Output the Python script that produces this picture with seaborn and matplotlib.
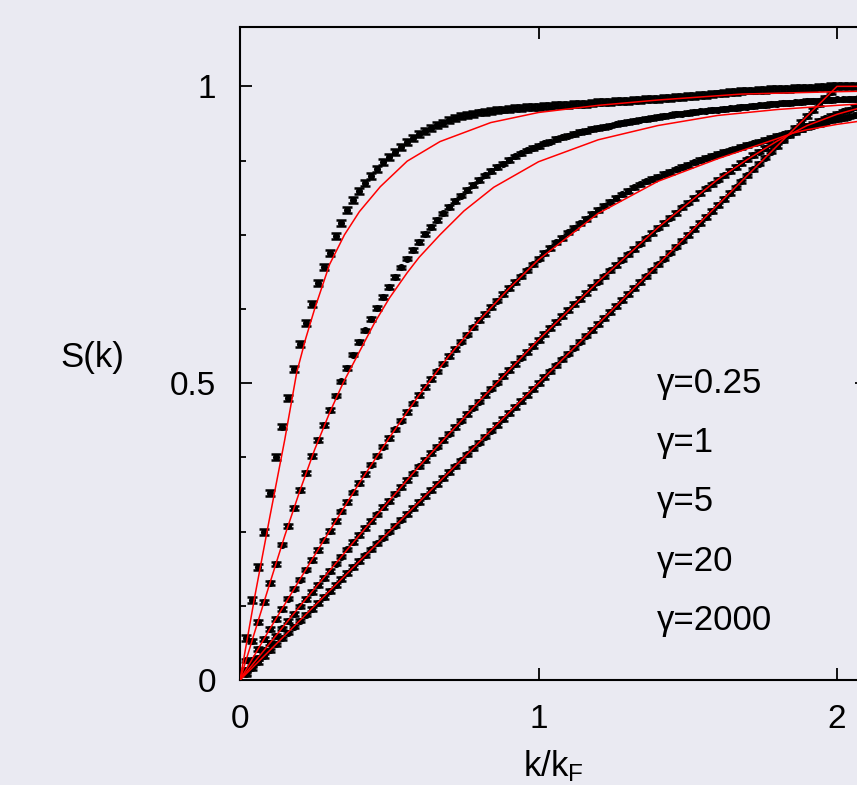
import numpy as np
import pandas as pd
import matplotlib
matplotlib.use("Agg")
import matplotlib.pyplot as plt
import seaborn as sns
from matplotlib.ticker import MultipleLocator

# ---------------- data ----------------
K = [0.02, 0.04, 0.06, 0.08, 0.10, 0.12, 0.14, 0.16, 0.18, 0.20,
     0.22, 0.24, 0.26, 0.28, 0.30, 0.32, 0.34, 0.36, 0.38, 0.40,
     0.42, 0.44, 0.46, 0.48, 0.50, 0.52, 0.54, 0.56, 0.58, 0.60,
     0.62, 0.64, 0.66, 0.68, 0.70, 0.72, 0.74, 0.76, 0.78, 0.80,
     0.82, 0.84, 0.86, 0.88, 0.90, 0.92, 0.94, 0.96, 0.98, 1.00,
     1.02, 1.04, 1.06, 1.08, 1.10, 1.12, 1.14, 1.16, 1.18, 1.20,
     1.22, 1.24, 1.26, 1.28, 1.30, 1.32, 1.34, 1.36, 1.38, 1.40,
     1.42, 1.44, 1.46, 1.48, 1.50, 1.52, 1.54, 1.56, 1.58, 1.60,
     1.62, 1.64, 1.66, 1.68, 1.70, 1.72, 1.74, 1.76, 1.78, 1.80,
     1.82, 1.84, 1.86, 1.88, 1.90, 1.92, 1.94, 1.96, 1.98, 2.00,
     2.02, 2.04, 2.06, 2.08]

S_g025 = [0.070, 0.135, 0.190, 0.250, 0.315, 0.375, 0.427, 0.475, 0.524, 0.566,
          0.602, 0.634, 0.668, 0.695, 0.720, 0.748, 0.770, 0.792, 0.808, 0.824,
          0.837, 0.849, 0.861, 0.872, 0.881, 0.890, 0.898, 0.906, 0.913, 0.919,
          0.925, 0.930, 0.935, 0.939, 0.943, 0.947, 0.950, 0.952, 0.954, 0.956,
          0.957, 0.958, 0.960, 0.961, 0.962, 0.963, 0.964, 0.965, 0.965, 0.966,
          0.967, 0.967, 0.968, 0.969, 0.969, 0.970, 0.971, 0.971, 0.972, 0.973,
          0.973, 0.974, 0.975, 0.975, 0.976, 0.977, 0.977, 0.978, 0.979, 0.979,
          0.980, 0.981, 0.982, 0.982, 0.983, 0.984, 0.985, 0.986, 0.987, 0.988,
          0.989, 0.990, 0.991, 0.992, 0.993, 0.993, 0.994, 0.994, 0.995, 0.995,
          0.996, 0.996, 0.997, 0.997, 0.998, 0.998, 0.999, 0.999, 1.000, 1.000,
          1.000, 1.000, 1.001, 1.001]

S_g1 = [0.033, 0.066, 0.098, 0.131, 0.163, 0.195, 0.228, 0.259, 0.290, 0.320,
        0.349, 0.377, 0.404, 0.430, 0.455, 0.479, 0.503, 0.526, 0.548, 0.569,
        0.589, 0.608, 0.627, 0.645, 0.662, 0.679, 0.695, 0.710, 0.724, 0.738,
        0.751, 0.763, 0.775, 0.786, 0.797, 0.807, 0.816, 0.825, 0.834, 0.842,
        0.850, 0.857, 0.864, 0.870, 0.876, 0.882, 0.887, 0.892, 0.896, 0.900,
        0.904, 0.907, 0.911, 0.914, 0.917, 0.920, 0.923, 0.925, 0.928, 0.930,
        0.932, 0.934, 0.936, 0.938, 0.940, 0.942, 0.944, 0.945, 0.947, 0.948,
        0.950, 0.951, 0.953, 0.954, 0.955, 0.957, 0.958, 0.959, 0.960, 0.961,
        0.962, 0.963, 0.964, 0.965, 0.966, 0.967, 0.968, 0.969, 0.970, 0.971,
        0.972, 0.972, 0.973, 0.974, 0.975, 0.975, 0.976, 0.977, 0.977, 0.978,
        0.978, 0.979, 0.979, 0.980]

S_g5 = [0.017, 0.034, 0.052, 0.069, 0.086, 0.103, 0.120, 0.137, 0.154, 0.169,
        0.186, 0.202, 0.219, 0.235, 0.251, 0.268, 0.284, 0.300, 0.316, 0.332,
        0.347, 0.363, 0.378, 0.393, 0.408, 0.422, 0.437, 0.451, 0.466, 0.480,
        0.494, 0.507, 0.520, 0.533, 0.546, 0.558, 0.570, 0.582, 0.594, 0.606,
        0.617, 0.628, 0.639, 0.650, 0.660, 0.670, 0.680, 0.690, 0.700, 0.710,
        0.719, 0.728, 0.737, 0.745, 0.754, 0.762, 0.769, 0.777, 0.785, 0.792,
        0.799, 0.806, 0.812, 0.818, 0.824, 0.830, 0.835, 0.840, 0.844, 0.848,
        0.852, 0.856, 0.860, 0.864, 0.868, 0.872, 0.876, 0.879, 0.883, 0.886,
        0.889, 0.892, 0.895, 0.898, 0.901, 0.904, 0.907, 0.910, 0.913, 0.916,
        0.919, 0.922, 0.925, 0.928, 0.931, 0.934, 0.937, 0.940, 0.943, 0.945,
        0.947, 0.949, 0.951, 0.953]

S_g20 = [0.012, 0.025, 0.037, 0.050, 0.062, 0.074, 0.087, 0.099, 0.111, 0.124,
         0.136, 0.148, 0.160, 0.172, 0.184, 0.196, 0.208, 0.220, 0.232, 0.244,
         0.256, 0.268, 0.279, 0.291, 0.302, 0.314, 0.325, 0.337, 0.348, 0.360,
         0.371, 0.382, 0.393, 0.404, 0.415, 0.426, 0.437, 0.448, 0.459, 0.469,
         0.480, 0.491, 0.501, 0.512, 0.522, 0.532, 0.543, 0.553, 0.563, 0.573,
         0.583, 0.593, 0.603, 0.613, 0.623, 0.633, 0.642, 0.652, 0.662, 0.671,
         0.680, 0.690, 0.699, 0.708, 0.717, 0.726, 0.735, 0.744, 0.753, 0.762,
         0.770, 0.779, 0.787, 0.796, 0.804, 0.812, 0.820, 0.828, 0.835, 0.843,
         0.850, 0.857, 0.864, 0.871, 0.877, 0.884, 0.890, 0.896, 0.902, 0.908,
         0.913, 0.918, 0.923, 0.928, 0.933, 0.937, 0.942, 0.946, 0.950, 0.954,
         0.958, 0.961, 0.965, 0.968]

S_g2000 = [0.01, 0.02, 0.03, 0.04, 0.05, 0.06, 0.07, 0.08, 0.09, 0.10,
           0.11, 0.12, 0.13, 0.14, 0.15, 0.16, 0.17, 0.18, 0.19, 0.20,
           0.21, 0.22, 0.23, 0.24, 0.25, 0.26, 0.27, 0.28, 0.29, 0.30,
           0.31, 0.32, 0.33, 0.34, 0.35, 0.36, 0.37, 0.38, 0.39, 0.40,
           0.41, 0.42, 0.43, 0.44, 0.45, 0.46, 0.47, 0.48, 0.49, 0.50,
           0.51, 0.52, 0.53, 0.54, 0.55, 0.56, 0.57, 0.58, 0.59, 0.60,
           0.61, 0.62, 0.63, 0.64, 0.65, 0.66, 0.67, 0.68, 0.69, 0.70,
           0.71, 0.72, 0.73, 0.74, 0.75, 0.76, 0.77, 0.78, 0.79, 0.80,
           0.81, 0.82, 0.83, 0.84, 0.85, 0.86, 0.87, 0.88, 0.89, 0.90,
           0.91, 0.92, 0.93, 0.94, 0.95, 0.96, 0.97, 0.98, 0.99, 1.00,
           1.00, 1.00, 1.00, 1.00]

ERR = [0.005, 0.003, 0.003, 0.003, 0.003]

# theory curves (red)
T025_k = [0, 0.05, 0.10, 0.15, 0.19, 0.22, 0.25, 0.30, 0.35, 0.40, 0.47, 0.56,
          0.67, 0.84, 1.00, 1.20, 1.40, 1.68, 2.00, 2.10]
T025_S = [0, 0.142, 0.275, 0.405, 0.518, 0.575, 0.625, 0.700, 0.750, 0.789, 0.831,
          0.874, 0.907, 0.939, 0.956, 0.968, 0.977, 0.987, 0.991, 0.992]
T1_k = [0, 0.05, 0.10, 0.15, 0.20, 0.25, 0.30, 0.345, 0.40, 0.45, 0.50, 0.56, 0.60,
        0.67, 0.75, 0.85, 1.00, 1.20, 1.40, 1.60, 1.80, 2.00, 2.10]
T1_S = [0, 0.082, 0.163, 0.243, 0.318, 0.388, 0.450, 0.500, 0.553, 0.601, 0.643,
        0.686, 0.712, 0.750, 0.790, 0.830, 0.873, 0.910, 0.934, 0.951, 0.961,
        0.968, 0.971]
T5_k = [0, 0.1, 0.2, 0.3, 0.4, 0.5, 0.6, 0.7, 0.8, 0.9, 1.0, 1.2, 1.4, 1.6, 1.7,
        1.8, 1.85, 1.9, 2.0, 2.1]
T5_S = [0, 0.086, 0.169, 0.251, 0.332, 0.408, 0.480, 0.546, 0.605, 0.659, 0.708,
        0.786, 0.840, 0.878, 0.895, 0.912, 0.921, 0.927, 0.936, 0.943]
T20_k = [0, 0.2, 0.4, 0.6, 0.8, 1.0, 1.2, 1.4, 1.6, 1.7, 1.8, 1.9, 2.0, 2.1]
T20_S = [0, 0.124, 0.244, 0.360, 0.469, 0.573, 0.671, 0.762, 0.843, 0.877, 0.908,
         0.934, 0.953, 0.967]
T2000_k = [0, 2.0, 2.1]
T2000_S = [0, 1.0, 1.0]

LABELS = ["γ=0.25", "γ=1", "γ=5", "γ=20", "γ=2000"]
LABEL_Y = [0.5, 0.4, 0.3, 0.2, 0.1]

SERIES = [S_g025, S_g1, S_g5, S_g20, S_g2000]
THEORY = [(T025_k, T025_S), (T1_k, T1_S), (T5_k, T5_S), (T20_k, T20_S),
          (T2000_k, T2000_S)]

# ---------------- style ----------------
sns.set_theme(style="dark")
plt.rcParams["font.family"] = ["Liberation Sans", "DejaVu Sans"]
plt.rcParams["mathtext.default"] = "regular"
BG = "#eaeaf2"
FS_TICK = 24
FS_LAB = 25

fig = plt.figure(figsize=(8.57, 7.85), dpi=100, facecolor=BG)
ax = fig.add_axes([240 / 857, 105 / 785, 2.1 * 298.5 / 857, 653 / 785])
ax.set_facecolor(BG)

for S, err, (tk, ts) in zip(SERIES, ERR, THEORY):
    df = pd.DataFrame({"k": K, "S": S})
    ax.errorbar(df["k"], df["S"], yerr=err, fmt="none", ecolor="black",
                elinewidth=1.6, capsize=3.6, capthick=1.8, zorder=2)
    sns.scatterplot(data=df, x="k", y="S", color="black", s=26, marker="o",
                    linewidth=0, ax=ax, zorder=3, legend=False)
    tdf = pd.DataFrame({"k": tk, "S": ts})
    sns.lineplot(data=tdf, x="k", y="S", color="#ff0000", lw=1.1, ax=ax,
                 zorder=4, sort=False, estimator=None)

for lab, y in zip(LABELS, LABEL_Y):
    ax.text(1.397, y, lab, fontsize=FS_LAB, ha="left", va="center",
            color="black")

ax.set_xlim(0, 2.1)
ax.set_ylim(0, 1.1)
ax.set_xticks([0, 1, 2])
ax.set_xticklabels(["0", "1", "2"])
ax.set_yticks([0, 0.5, 1])
ax.set_yticklabels(["0", "0.5", "1"])
ax.yaxis.set_minor_locator(MultipleLocator(0.125))
ax.tick_params(which="major", direction="in", length=8.5, width=1.3,
               color="black", top=True, right=True, bottom=True, left=True,
               labelsize=FS_TICK, pad=17, labelcolor="black")
ax.tick_params(which="minor", direction="in", length=4.3, width=1.3,
               color="black", left=True, right=True, bottom=False, top=False)
for sp in ax.spines.values():
    sp.set_visible(True)
    sp.set_color("black")
    sp.set_linewidth(1.5)

ax.set_xlabel("k/k$_F$", fontsize=FS_LAB, labelpad=10, color="black")
ax.set_ylabel("")
fig.text(92 / 857, 1 - 357 / 785, "S(k)", fontsize=FS_LAB, ha="center",
         va="center", color="black")

fig.savefig("out.png", dpi=100, facecolor=BG)
